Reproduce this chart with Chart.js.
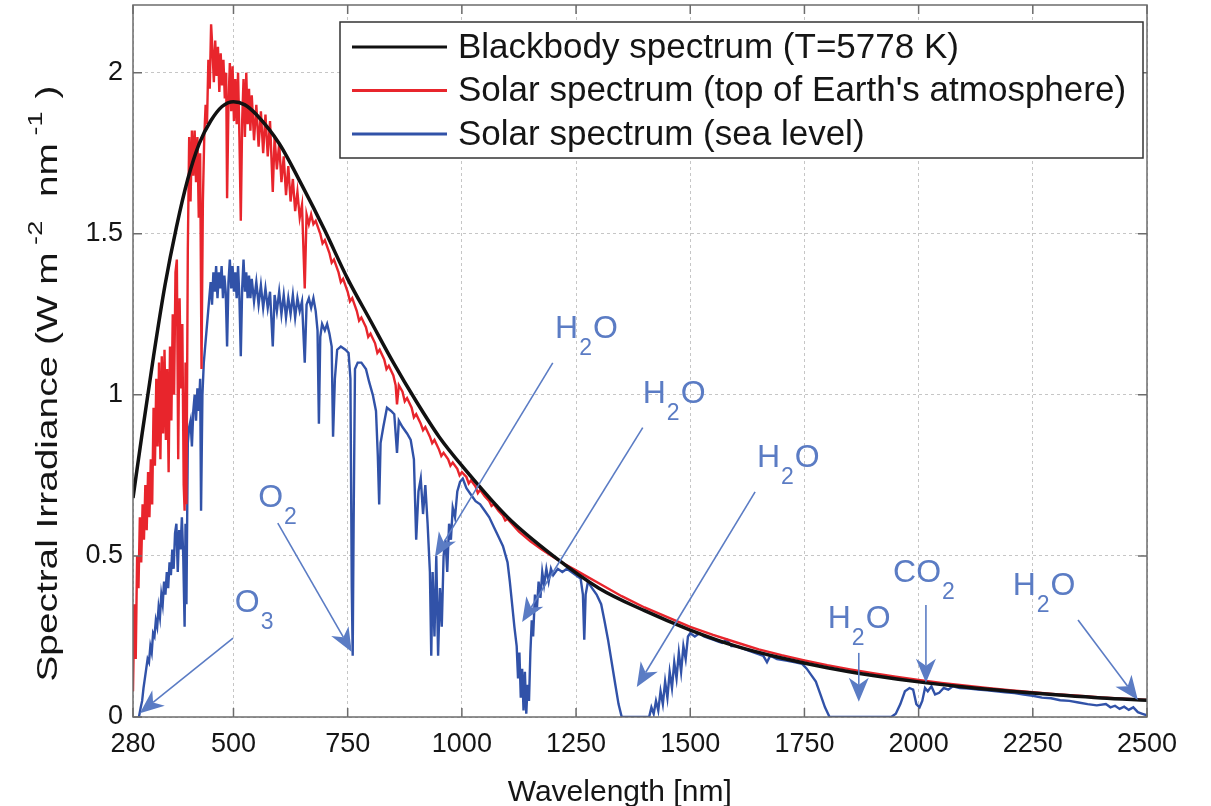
<!DOCTYPE html>
<html>
<head>
<meta charset="utf-8">
<script src="https://cdn.jsdelivr.net/npm/chart.js@4.4.1/dist/chart.umd.min.js"></script>
<style>
  html, body { margin: 0; padding: 0; background: #fff; }
  #wrap { width: 1211px; height: 806px; }
</style>
</head>
<body>
<div id="wrap"><canvas id="myChart" width="1211" height="806"></canvas></div>
<script>
// tick labels
const xTicks = [280, 500, 750, 1000, 1250, 1500, 1750, 2000, 2250, 2500];
const yTicks = [0, 0.5, 1, 1.5, 2];

// blackbody spectrum (T=5778 K)
const bbWave = [280, 300, 325, 350, 375, 400, 425, 450, 475, 500, 525, 550, 600, 650, 700, 750, 800, 850, 900, 950,
    1000, 1100, 1200, 1300, 1400, 1500, 1600, 1700, 1800, 1900, 2000, 2100, 2200, 2300, 2400, 2500];
const bbValue = [0.68, 0.88, 1.12, 1.34, 1.52, 1.67, 1.78, 1.85, 1.895, 1.91, 1.90, 1.87, 1.78, 1.65, 1.51, 1.36, 1.23, 1.10, 0.98, 0.87,
    0.78, 0.62, 0.50, 0.40, 0.33, 0.27, 0.22, 0.183, 0.153, 0.129, 0.109, 0.093, 0.080, 0.069, 0.059, 0.052];

// solar spectrum, top of the atmosphere
const toaWave = [280, 283, 286, 289, 292, 295, 298, 301, 304, 307, 310, 313, 316, 319, 322, 325, 328, 331, 334, 337,
    340, 343, 346, 349, 352, 355, 358, 361, 364, 367, 370, 373, 376, 379, 382, 385, 388, 391, 393, 395,
    397, 400, 403, 406, 409, 412, 415, 418, 421, 424, 427, 430, 433, 436, 439, 442, 445, 448, 451, 454,
    457, 460, 463, 466, 469, 472, 475, 478, 481, 484, 486, 489, 492, 495, 498, 501, 504, 507, 510, 513,
    516, 519, 522, 525, 528, 531, 534, 537, 540, 545, 550, 555, 560, 565, 570, 575, 580, 586, 590, 595,
    600, 605, 610, 615, 620, 625, 630, 635, 640, 645, 650, 656, 660, 665, 670, 675, 680, 690, 695, 700,
    710, 715, 720, 730, 735, 740, 750, 755, 760, 770, 775, 780, 790, 795, 800, 810, 815, 820, 830, 835,
    840, 850, 855, 858, 862, 870, 875, 880, 890, 895, 900, 910, 915, 920, 930, 935, 940, 950, 955, 960,
    970, 975, 980, 990, 995, 1000, 1010, 1015, 1020, 1030, 1035, 1040, 1050, 1060, 1065, 1070, 1080, 1090, 1095, 1100,
    1125, 1150, 1175, 1200, 1225, 1250, 1275, 1300, 1350, 1400, 1450, 1500, 1550, 1600, 1650, 1700, 1750, 1800, 1850, 1900,
    1950, 2000, 2050, 2100, 2150, 2200, 2250, 2300, 2350, 2400, 2450, 2500];
const toaValue = [0.08, 0.35, 0.18, 0.50, 0.40, 0.62, 0.48, 0.66, 0.55, 0.72, 0.58, 0.76, 0.62, 0.80, 0.66, 0.96, 0.78, 1.05, 0.84, 1.10,
    0.80, 1.12, 0.88, 1.14, 0.86, 1.08, 0.76, 1.15, 0.92, 1.25, 1.00, 1.38, 1.42, 0.80, 1.30, 1.02, 1.22, 0.72, 0.64, 1.10,
    0.66, 1.45, 1.80, 1.60, 1.82, 1.68, 1.82, 1.66, 1.80, 1.55, 1.75, 1.08, 1.60, 1.80, 1.90, 1.84, 2.04, 1.95, 2.15, 2.07,
    1.97, 2.10, 1.99, 2.08, 1.94, 2.06, 1.96, 2.04, 1.92, 2.00, 1.61, 1.90, 2.03, 1.88, 2.02, 1.85, 1.98, 1.84, 2.00, 1.80,
    1.54, 1.85, 1.98, 1.80, 2.00, 1.84, 1.95, 1.82, 1.93, 1.79, 1.90, 1.77, 1.88, 1.75, 1.87, 1.74, 1.85, 1.63, 1.80, 1.70,
    1.78, 1.66, 1.74, 1.62, 1.71, 1.60, 1.67, 1.57, 1.63, 1.55, 1.59, 1.33, 1.56, 1.53, 1.56, 1.53, 1.54, 1.50, 1.47, 1.48,
    1.44, 1.41, 1.42, 1.38, 1.35, 1.36, 1.32, 1.29, 1.30, 1.26, 1.23, 1.24, 1.21, 1.18, 1.19, 1.16, 1.13, 1.14, 1.11, 1.08,
    1.09, 1.06, 1.03, 0.97, 1.03, 1.01, 0.98, 0.99, 0.96, 0.93, 0.94, 0.91, 0.89, 0.90, 0.87, 0.85, 0.86, 0.83, 0.81, 0.82,
    0.80, 0.78, 0.79, 0.77, 0.75, 0.76, 0.745, 0.725, 0.735, 0.715, 0.695, 0.705, 0.685, 0.67, 0.655, 0.66, 0.64, 0.625, 0.61, 0.615,
    0.575, 0.545, 0.52, 0.497, 0.475, 0.455, 0.435, 0.415, 0.375, 0.34, 0.31, 0.28, 0.255, 0.232, 0.21, 0.192, 0.176, 0.161, 0.148, 0.136,
    0.125, 0.115, 0.106, 0.098, 0.09, 0.083, 0.077, 0.071, 0.066, 0.061, 0.057, 0.053];

// solar spectrum, sea level
const seaWave = [293, 297, 300, 303, 306, 309, 312, 315, 318, 321, 324, 327, 330, 333, 336, 339, 342, 345, 348, 351,
    354, 357, 360, 363, 366, 369, 372, 375, 378, 381, 384, 387, 390, 393, 395, 397, 400, 403, 406, 409,
    412, 415, 418, 421, 424, 427, 429, 432, 435, 438, 441, 444, 447, 450, 453, 456, 459, 462, 465, 468,
    471, 474, 477, 480, 483, 486, 489, 492, 495, 498, 501, 504, 507, 510, 513, 516, 519, 522, 525, 528,
    531, 534, 537, 540, 545, 550, 555, 560, 565, 570, 575, 580, 586, 590, 595, 600, 605, 610, 615, 620,
    625, 630, 635, 640, 645, 650, 656, 660, 665, 670, 675, 680, 684, 687, 690, 694, 700, 705, 710, 715,
    718, 722, 727, 735, 745, 752, 756, 759, 761, 763, 766, 772, 780, 790, 797, 805, 812, 816, 819, 822,
    828, 836, 845, 852, 858, 862, 870, 880, 888, 895, 900, 905, 910, 915, 920, 925, 930, 933, 936, 940,
    944, 948, 952, 956, 960, 964, 968, 972, 976, 980, 985, 990, 996, 1002, 1010, 1020, 1030, 1040, 1050, 1060,
    1070, 1080, 1090, 1100, 1105, 1110, 1115, 1120, 1123, 1126, 1129, 1132, 1135, 1138, 1141, 1144, 1147, 1150, 1153, 1156,
    1160, 1164, 1168, 1172, 1176, 1180, 1185, 1190, 1195, 1200, 1210, 1220, 1230, 1240, 1250, 1260, 1265, 1268, 1271, 1276,
    1285, 1295, 1305, 1312, 1320, 1328, 1336, 1343, 1350, 1380, 1410, 1415, 1420, 1425, 1430, 1435, 1440, 1445, 1450, 1455,
    1460, 1465, 1470, 1475, 1480, 1485, 1490, 1495, 1500, 1510, 1520, 1530, 1540, 1550, 1560, 1570, 1580, 1590, 1600, 1620,
    1640, 1660, 1668, 1675, 1690, 1710, 1730, 1745, 1755, 1765, 1775, 1785, 1795, 1805, 1850, 1900, 1940, 1950, 1960, 1970,
    1980, 1988, 1995, 2002, 2008, 2014, 2020, 2028, 2036, 2045, 2055, 2065, 2075, 2090, 2110, 2130, 2150, 2170, 2190, 2210,
    2230, 2250, 2270, 2290, 2310, 2330, 2350, 2370, 2390, 2410, 2420, 2430, 2440, 2450, 2460, 2470, 2480, 2490, 2500];
const seaValue = [0.0, 0.03, 0.05, 0.09, 0.12, 0.15, 0.18, 0.17, 0.22, 0.20, 0.26, 0.25, 0.30, 0.28, 0.34, 0.31, 0.38, 0.35, 0.42, 0.38,
    0.45, 0.40, 0.48, 0.44, 0.52, 0.46, 0.57, 0.60, 0.45, 0.58, 0.52, 0.62, 0.50, 0.28, 0.60, 0.35, 0.85, 0.90, 0.92, 0.84,
    0.95, 1.00, 0.92, 1.02, 0.95, 1.05, 0.64, 1.00, 1.10, 1.15, 1.20, 1.25, 1.30, 1.35, 1.28, 1.38, 1.32, 1.40, 1.30, 1.38,
    1.33, 1.40, 1.30, 1.37, 1.32, 1.15, 1.35, 1.42, 1.33, 1.40, 1.32, 1.38, 1.30, 1.40, 1.30, 1.12, 1.33, 1.42, 1.32, 1.38,
    1.30, 1.37, 1.30, 1.36, 1.29, 1.35, 1.28, 1.34, 1.27, 1.33, 1.27, 1.32, 1.15, 1.31, 1.26, 1.32, 1.25, 1.31, 1.24, 1.30,
    1.25, 1.31, 1.24, 1.30, 1.26, 1.29, 1.10, 1.28, 1.30, 1.27, 1.30, 1.26, 1.20, 0.91, 1.18, 1.22, 1.20, 1.22, 1.19, 1.15,
    0.87, 1.05, 1.14, 1.15, 1.14, 1.13, 1.05, 0.40, 0.19, 0.60, 1.08, 1.10, 1.10, 1.08, 1.04, 1.00, 0.95, 0.81, 0.66, 0.85,
    0.90, 0.96, 0.95, 0.94, 0.82, 0.92, 0.90, 0.88, 0.86, 0.80, 0.55, 0.70, 0.74, 0.63, 0.72, 0.60, 0.45, 0.19, 0.45, 0.25,
    0.50, 0.19, 0.40, 0.28, 0.50, 0.55, 0.45, 0.60, 0.55, 0.65, 0.62, 0.70, 0.73, 0.74, 0.71, 0.69, 0.67, 0.66, 0.64, 0.62,
    0.59, 0.56, 0.53, 0.48, 0.42, 0.35, 0.28, 0.22, 0.12, 0.20, 0.06, 0.15, 0.02, 0.14, 0.01, 0.10, 0.05, 0.20, 0.30, 0.25,
    0.38, 0.33, 0.42, 0.37, 0.45, 0.41, 0.46, 0.42, 0.46, 0.44, 0.46, 0.45, 0.46, 0.45, 0.44, 0.43, 0.38, 0.24, 0.38, 0.42,
    0.40, 0.38, 0.35, 0.30, 0.24, 0.17, 0.10, 0.04, 0.0, 0.0, 0.0, 0.03, 0.01, 0.05, 0.02, 0.08, 0.04, 0.11, 0.06, 0.14,
    0.09, 0.17, 0.12, 0.20, 0.14, 0.22, 0.18, 0.25, 0.26, 0.25, 0.26, 0.25, 0.245, 0.24, 0.235, 0.23, 0.24, 0.22, 0.22, 0.21,
    0.20, 0.19, 0.17, 0.19, 0.18, 0.175, 0.17, 0.165, 0.15, 0.13, 0.11, 0.07, 0.03, 0.0, 0.0, 0.0, 0.0, 0.01, 0.04, 0.08,
    0.09, 0.085, 0.04, 0.03, 0.05, 0.09, 0.08, 0.095, 0.07, 0.075, 0.09, 0.085, 0.095, 0.09, 0.088, 0.085, 0.083, 0.08, 0.077, 0.074,
    0.07, 0.066, 0.06, 0.058, 0.052, 0.05, 0.045, 0.04, 0.036, 0.04, 0.03, 0.035, 0.025, 0.032, 0.022, 0.03, 0.015, 0.01, 0.005];

// absorption labels: text, subscript, rest, label anchor [nm, value], arrow from/to [nm, value]
const bands = [
    { text: 'O', sub: '3', rest: '', at: [503, 0.326], from: [499, 0.245], to: [295, 0.012] },
    { text: 'O', sub: '2', rest: '', at: [554, 0.652], from: [597, 0.602], to: [759, 0.202] },
    { text: 'H', sub: '2', rest: 'O', at: [1204, 1.177], from: [1199, 1.099], to: [941, 0.497] },
    { text: 'H', sub: '2', rest: 'O', at: [1396, 0.975], from: [1396, 0.898], to: [1132, 0.295] },
    { text: 'H', sub: '2', rest: 'O', at: [1646, 0.776], from: [1642, 0.699], to: [1383, 0.093] },
    { text: 'H', sub: '2', rest: 'O', at: [1801, 0.276], from: [1869, 0.199], to: [1869, 0.047] },
    { text: 'CO', sub: '2', rest: '', at: [1944, 0.419], from: [2016, 0.348], to: [2016, 0.106] },
    { text: 'H', sub: '2', rest: 'O', at: [2206, 0.379], from: [2349, 0.301], to: [2480, 0.053] }
];

const FONT = "'Liberation Sans', Arial, Helvetica, sans-serif";
const ANNO = '#5b7cc4';

function toPoints(xs, ys) {
    return xs.map((x, i) => ({ x: x, y: ys[i] }));
}

function drawArrow(ctx, x0, y0, x1, y1) {
    let ang = Math.atan2(y1 - y0, x1 - x0);
    let L = 24, W = 10, notch = 7;
    ctx.beginPath();
    ctx.moveTo(x0, y0);
    ctx.lineTo(x1 - Math.cos(ang) * (L - notch), y1 - Math.sin(ang) * (L - notch));
    ctx.stroke();
    ctx.save();
    ctx.translate(x1, y1);
    ctx.rotate(ang);
    ctx.beginPath();
    ctx.moveTo(0, 0);
    ctx.lineTo(-L, -W);
    ctx.lineTo(-L + notch, 0);
    ctx.lineTo(-L, W);
    ctx.closePath();
    ctx.fill();
    ctx.restore();
}

const decor = {
    id: 'decor',
    afterDatasetsDraw(chart) {
        let ctx = chart.ctx;
        let a = chart.chartArea;
        let x = chart.scales.x, y = chart.scales.y;
        ctx.save();
        ctx.setLineDash([]);

        // axes box with inward ticks
        ctx.strokeStyle = '#6c6c6c';
        ctx.lineWidth = 1.5;
        ctx.strokeRect(a.left, a.top, a.right - a.left, a.bottom - a.top);
        ctx.beginPath();
        xTicks.forEach(v => {
            let px = x.getPixelForValue(v);
            ctx.moveTo(px, a.bottom); ctx.lineTo(px, a.bottom - 9);
            ctx.moveTo(px, a.top); ctx.lineTo(px, a.top + 9);
        });
        yTicks.forEach(v => {
            let py = y.getPixelForValue(v);
            ctx.moveTo(a.left, py); ctx.lineTo(a.left + 9, py);
            ctx.moveTo(a.right, py); ctx.lineTo(a.right - 9, py);
        });
        ctx.stroke();

        // absorption band labels and arrows
        ctx.fillStyle = ANNO;
        ctx.strokeStyle = ANNO;
        ctx.lineWidth = 1.6;
        ctx.textBaseline = 'alphabetic';
        ctx.textAlign = 'left';
        bands.forEach(b => {
            let px = x.getPixelForValue(b.at[0]);
            let py = y.getPixelForValue(b.at[1]);
            ctx.font = '32px ' + FONT;
            ctx.fillText(b.text, px, py);
            let w = ctx.measureText(b.text).width;
            ctx.font = '23px ' + FONT;
            ctx.fillText(b.sub, px + w + 1, py + 17);
            let ws = ctx.measureText(b.sub).width;
            ctx.font = '32px ' + FONT;
            if (b.rest) ctx.fillText(b.rest, px + w + ws + 2, py);
            drawArrow(ctx,
                x.getPixelForValue(b.from[0]), y.getPixelForValue(b.from[1]),
                x.getPixelForValue(b.to[0]), y.getPixelForValue(b.to[1]));
        });

        // legend
        let lx = a.right - 807, ly = a.top + 17, lw = 803, lh = 136;
        ctx.fillStyle = '#fff';
        ctx.fillRect(lx, ly, lw, lh);
        ctx.strokeStyle = '#333';
        ctx.lineWidth = 1.5;
        ctx.strokeRect(lx, ly, lw, lh);
        ctx.font = '35px ' + FONT;
        ctx.textBaseline = 'middle';
        chart.data.datasets.forEach((ds, i) => {
            let ry = ly + 25 + i * 43.5;
            ctx.strokeStyle = ds.borderColor;
            ctx.lineWidth = 3;
            ctx.beginPath();
            ctx.moveTo(lx + 12, ry);
            ctx.lineTo(lx + 107, ry);
            ctx.stroke();
            ctx.fillStyle = '#151515';
            ctx.fillText(ds.label, lx + 118, ry + 1);
        });

        // x axis title
        ctx.fillStyle = '#151515';
        ctx.textAlign = 'center';
        ctx.textBaseline = 'alphabetic';
        ctx.font = '30px ' + FONT;
        ctx.fillText('Wavelength [nm]', a.left + (a.right - a.left) * 0.48, 801);

        // y axis title with superscripts
        let parts = [['Spectral Irradiance (W m', 0], [' -2', 1], [' nm', 0], [' -1', 1], [')', 0]];
        let total = 0;
        parts.forEach(p => {
            ctx.font = (p[1] ? '21px ' : '30px ') + FONT;
            total += ctx.measureText(p[0]).width + (p[1] ? 10 : 0);
        });
        let span = y.getPixelForValue(0.11) - y.getPixelForValue(1.96);
        ctx.translate(46, y.getPixelForValue(0.11));
        ctx.rotate(-Math.PI / 2);
        ctx.scale(span / total, 1);
        ctx.textAlign = 'left';
        let pos = 0;
        parts.forEach(p => {
            ctx.font = (p[1] ? '21px ' : '30px ') + FONT;
            ctx.fillText(p[0], pos, p[1] ? -4 : 11);
            pos += ctx.measureText(p[0]).width + (p[1] ? 10 : 0);
        });
        ctx.restore();
    }
};

const ctx = document.getElementById('myChart').getContext('2d');
const myChart = new Chart(ctx, {
    type: 'line',
    data: {
        datasets: [
            {
                label: 'Blackbody spectrum (T=5778 K)',
                data: toPoints(bbWave, bbValue),
                borderColor: '#111111',
                borderWidth: 3.5,
                cubicInterpolationMode: 'monotone',
                pointRadius: 0
            },
            {
                label: "Solar spectrum (top of Earth's atmosphere)",
                data: toPoints(toaWave, toaValue),
                borderColor: '#e8252c',
                borderWidth: 2.4,
                tension: 0,
                pointRadius: 0
            },
            {
                label: 'Solar spectrum (sea level)',
                data: toPoints(seaWave, seaValue),
                borderColor: '#3152a8',
                borderWidth: 2.4,
                tension: 0,
                pointRadius: 0
            }
        ]
    },
    options: {
        responsive: false,
        devicePixelRatio: 1,
        animation: false,
        layout: { padding: { top: 5, right: 64, left: 0, bottom: 0 } },
        plugins: {
            legend: { display: false },
            tooltip: { enabled: false }
        },
        scales: {
            x: {
                type: 'linear',
                min: 280,
                max: 2500,
                afterBuildTicks: s => { s.ticks = xTicks.map(v => ({ value: v })); },
                afterFit: s => { s.height = 89; s.paddingLeft = 0; s.paddingRight = 0; },
                ticks: {
                    font: { family: FONT, size: 27 },
                    color: '#151515',
                    padding: 11,
                    maxRotation: 0,
                    autoSkip: false,
                    callback: v => String(v)
                },
                grid: { color: '#c6c6c6', lineWidth: 1, drawTicks: false },
                border: { display: false, dash: [3, 3] }
            },
            y: {
                min: 0,
                max: 2.21,
                afterBuildTicks: s => { s.ticks = yTicks.map(v => ({ value: v })); },
                afterFit: s => { s.width = 133; s.paddingTop = 0; s.paddingBottom = 0; },
                ticks: {
                    font: { family: FONT, size: 27 },
                    color: '#151515',
                    padding: 10,
                    callback: v => String(v)
                },
                grid: { color: '#c6c6c6', lineWidth: 1, drawTicks: false },
                border: { display: false, dash: [3, 3] }
            }
        }
    },
    plugins: [decor]
});
</script>
</body>
</html>
